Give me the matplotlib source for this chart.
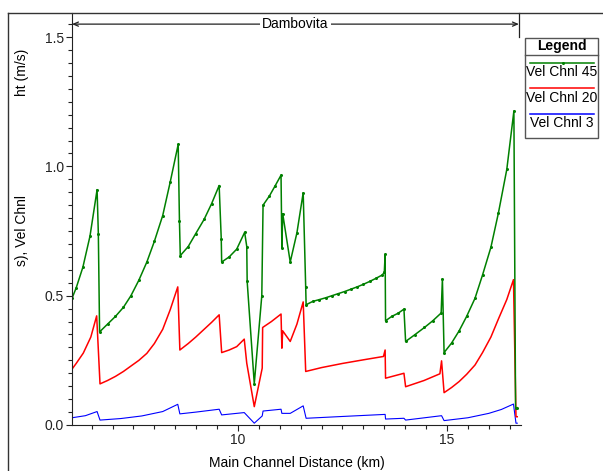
import matplotlib
matplotlib.use("Agg")
import matplotlib.pyplot as plt
from matplotlib.lines import Line2D
from matplotlib.patches import Rectangle

# === DATA ===
km45 = [6.03, 6.13, 6.29, 6.46, 6.63, 6.66, 6.69, 6.88, 7.07, 7.26, 7.44, 7.63, 7.82, 8.00,
        8.20, 8.38, 8.57, 8.60, 8.62, 8.81, 8.99, 9.19, 9.37, 9.55, 9.60, 9.61, 9.79, 9.97,
        10.16, 10.21, 10.22, 10.39, 10.57, 10.60, 10.75, 10.89, 11.03, 11.05, 11.07, 11.25,
        11.41, 11.56, 11.62, 11.63, 11.79, 11.95, 12.10, 12.25, 12.40, 12.55, 12.70, 12.85,
        13.00, 13.15, 13.30, 13.45, 13.50, 13.52, 13.53, 13.68, 13.83, 13.97, 14.01, 14.23,
        14.46, 14.66, 14.86, 14.89, 14.93, 15.11, 15.29, 15.47, 15.67, 15.85, 16.05, 16.23,
        16.43, 16.60, 16.64, 16.68]
vel45 = [0.49, 0.53, 0.61, 0.73, 0.91, 0.74, 0.36, 0.39, 0.42, 0.455, 0.50, 0.56, 0.63, 0.71,
         0.81, 0.94, 1.085, 0.79, 0.655, 0.69, 0.74, 0.795, 0.856, 0.926, 0.72, 0.63, 0.65, 0.68,
         0.745, 0.69, 0.555, 0.16, 0.50, 0.85, 0.885, 0.925, 0.966, 0.685, 0.817, 0.63,
         0.743, 0.898, 0.532, 0.465, 0.478, 0.485, 0.492, 0.50, 0.508, 0.516, 0.525, 0.534,
         0.544, 0.555, 0.567, 0.58, 0.59, 0.66, 0.403, 0.42, 0.432, 0.448, 0.323, 0.349,
         0.377, 0.403, 0.433, 0.565, 0.28, 0.317, 0.364, 0.42, 0.49, 0.58, 0.687, 0.82,
         0.988, 1.214, 0.067, 0.067]

km20 = [6.03, 6.13, 6.30, 6.48, 6.62, 6.70, 6.88, 7.07, 7.26, 7.44, 7.63, 7.82, 8.00, 8.20,
        8.38, 8.56, 8.61, 8.81, 8.99, 9.19, 9.37, 9.55, 9.61, 9.79, 9.97, 10.15, 10.21, 10.39,
        10.58, 10.59, 10.80, 11.03, 11.05, 11.07, 11.25, 11.41, 11.56, 11.62, 12.00, 12.50,
        13.00, 13.48, 13.52, 13.53, 13.97, 14.01, 14.45, 14.83, 14.87, 14.93, 15.11, 15.29,
        15.47, 15.67, 15.85, 16.05, 16.23, 16.43, 16.59, 16.65, 16.68]
vel20 = [0.216, 0.238, 0.278, 0.34, 0.422, 0.159, 0.172, 0.188, 0.207, 0.228, 0.25, 0.277,
         0.315, 0.37, 0.446, 0.534, 0.29, 0.315, 0.34, 0.37, 0.397, 0.426, 0.28, 0.29, 0.303,
         0.332, 0.239, 0.071, 0.22, 0.377, 0.40, 0.429, 0.297, 0.364, 0.323, 0.39, 0.476,
         0.207, 0.222, 0.238, 0.252, 0.265, 0.29, 0.181, 0.20, 0.148, 0.172, 0.198, 0.248,
         0.125, 0.145, 0.168, 0.196, 0.232, 0.28, 0.34, 0.41, 0.485, 0.562, 0.032, 0.032]

km3 = [6.03, 6.35, 6.63, 6.70, 7.20, 7.70, 8.20, 8.56, 8.61, 9.00, 9.55, 9.61, 10.15, 10.39,
       10.58, 10.60, 11.03, 11.05, 11.25, 11.56, 11.63, 12.50, 13.52, 13.53, 13.97, 14.01,
       14.87, 14.93, 15.50, 16.00, 16.30, 16.59, 16.65, 16.68]
vel3 = [0.028, 0.036, 0.052, 0.019, 0.025, 0.035, 0.052, 0.08, 0.043, 0.05, 0.061, 0.039,
        0.048, 0.007, 0.035, 0.054, 0.061, 0.045, 0.045, 0.074, 0.026, 0.033, 0.041, 0.023,
        0.026, 0.019, 0.036, 0.017, 0.028, 0.045, 0.06, 0.081, 0.007, 0.007]

reach_name = "Dambovita"
reach_start, reach_end = 6.03, 16.72
legend_labels = ["Vel Chnl 45", "Vel Chnl 20", "Vel Chnl 3"]
series_colors = ["#008000", "#ff0000", "#0000ff"]

# === FIGURE ===
W, H = 603, 471
plt.rcParams['font.family'] = ['Liberation Sans', 'DejaVu Sans']
fig = plt.figure(figsize=(W / 100, H / 100), dpi=100)
fig.patch.set_facecolor("white")


def fx(px):
    return px / W


def fy(py):
    return 1 - py / H


ax = fig.add_axes([fx(72), fy(425), fx(521) - fx(72), fy(13) - fy(425)])

ax.plot(km3, vel3, color=series_colors[2], lw=0.8)
ax.plot(km20, vel20, color=series_colors[1], lw=1.1)
ax.plot(km45, vel45, color=series_colors[0], lw=1.1, marker='o', markersize=1.2)

ax.set_xlim(6.03, 16.77)
ax.set_ylim(0, 1.593)
ax.set_xticks([10, 15])
ax.set_xticks([x / 2 for x in range(13, 34)], minor=True)
ax.set_yticks([0, 0.5, 1.0, 1.5])
ax.set_yticklabels(["0.0", "0.5", "1.0", "1.5"])
ax.set_yticks([y * 0.05 for y in range(0, 32)], minor=True)
ax.tick_params(axis='both', which='major', direction='out', length=4.5, width=0.8,
               labelsize=10, pad=1.5, colors='#222222')
ax.tick_params(axis='both', which='minor', direction='out', length=3, width=0.8, colors='#222222')
for s in ['top', 'right']:
    ax.spines[s].set_visible(False)
for s in ['left', 'bottom']:
    ax.spines[s].set_color('#222222')
    ax.spines[s].set_linewidth(0.8)
ax.set_xlabel("Main Channel Distance (km)", fontsize=10, labelpad=6.5)

# === REACH BRACKET ===
ax.annotate('', xy=(reach_start, 1.550), xytext=(reach_end, 1.550),
            arrowprops=dict(arrowstyle='<->,head_length=0.35,head_width=0.15',
                            color='#222222', lw=0.9, shrinkA=0, shrinkB=0),
            annotation_clip=False)
ax.text((reach_start + reach_end) / 2, 1.550, reach_name, ha='center', va='center',
        fontsize=10, bbox=dict(facecolor='white', edgecolor='none', pad=1.5))
ax.plot([reach_end, reach_end], [1.50, 1.593], color='#222222', lw=0.9, clip_on=False)

# === FRAME LINES ===
fig.add_artist(Line2D([fx(8), 1], [fy(13), fy(13)], color='#333333', lw=1))
fig.add_artist(Line2D([fx(8), fx(8)], [fy(13), 0], color='#333333', lw=1))

# === CLIPPED Y LABEL ===
fig.text(fx(22), fy(72), "ht (m/s)", rotation=90, ha='center', va='center', fontsize=10)
fig.text(fx(22), fy(230), "s), Vel Chnl", rotation=90, ha='center', va='center', fontsize=10)

# === LEGEND BOX ===
fig.add_artist(Rectangle((fx(525), fy(138)), fx(598) - fx(525), fy(38) - fy(138),
                         facecolor='white', edgecolor='#555555', lw=1))
fig.text(fx(562), fy(46), "Legend", ha='center', va='center', fontsize=10, fontweight='bold')
fig.add_artist(Line2D([fx(525), fx(598)], [fy(55), fy(55)], color='#555555', lw=1))
line_y = [63, 88, 114]
text_y = [72, 98, 123]
for i in range(3):
    fig.add_artist(Line2D([fx(530), fx(594)], [fy(line_y[i]), fy(line_y[i])],
                          color=series_colors[i], lw=1.1))
    fig.text(fx(562), fy(text_y[i]), legend_labels[i], ha='center', va='center', fontsize=10)
fig.add_artist(Line2D([fx(563)], [fy(63)], color=series_colors[0], marker='o', markersize=1.2))

fig.savefig("out.png", dpi=100)
